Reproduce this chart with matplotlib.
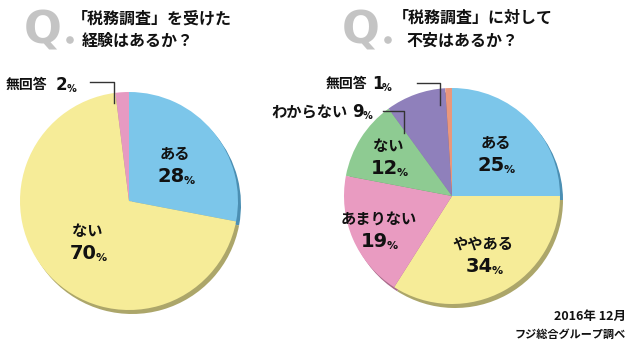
import numpy as np
import matplotlib
matplotlib.use('Agg')
import matplotlib.pyplot as plt
from matplotlib.patches import Circle

plt.rcParams['font.family'] = ['Noto Sans CJK JP', 'DejaVu Sans']

# data
q1_title = ['「税務調査」を受けた', '経験はあるか？']
q1_labels = ['ある', 'ない', '無回答']
q1_values = [28, 70, 2]
q1_colors = ['#7cc6ea', '#f6ec98', '#e69ac2']
q1_shadow = ['#4b8fb3', '#aca66a', '#a86b8a']

q2_title = ['「税務調査」に対して', '不安はあるか？']
q2_labels = ['ある', 'ややある', 'あまりない', 'ない', 'わからない', '無回答']
q2_values = [25, 34, 19, 12, 9, 1]
q2_colors = ['#7cc6ea', '#f6ec98', '#e99bc1', '#8ecb92', '#8f80bb', '#e9977c']
q2_shadow = ['#4b8fb3', '#aca66a', '#a86b8a', '#5f9562', '#5d5289', '#a8664f']

footer = ['2016年 12月', 'フジ総合グループ調べ']

W, H = 632, 349
fig = plt.figure(figsize=(W / 100, H / 100), dpi=100)
ax = fig.add_axes([0, 0, 1, 1])
ax.set_xlim(0, W)
ax.set_ylim(0, H)
ax.set_aspect('equal')
ax.axis('off')


def Y(py):
    return H - py


def pct_text(x, y, num, ha='center', big=14, small=8):
    # number bold and big, small % sign stuck to its right
    t = ax.text(x, y, str(num), ha=ha, va='baseline', fontsize=big,
                fontweight='bold', family='DejaVu Sans', color='#111111')
    ax.annotate('%', xy=(1, 0), xycoords=t, xytext=(-1, 0),
                textcoords='offset points', ha='left', va='bottom',
                fontsize=small, fontweight='bold', family='DejaVu Sans',
                color='#111111')


def draw_pie(cx, cy, r, values, colors, shadow, labels, inner, callouts):
    # shadow pie, slightly offset down/right
    ax.pie(values, colors=shadow, startangle=90, counterclock=False,
           center=(cx + 3, Y(cy) - 4), radius=r, frame=True,
           wedgeprops=dict(linewidth=0))
    wedges, _ = ax.pie(values, colors=colors, startangle=90, counterclock=False,
                       center=(cx, Y(cy)), radius=r, frame=True,
                       wedgeprops=dict(linewidth=0))
    for i, w in enumerate(wedges):
        if i not in inner:
            continue
        frac = inner[i]
        mid = np.deg2rad((w.theta1 + w.theta2) / 2)
        lx = cx + frac * r * np.cos(mid)
        ly = Y(cy) + frac * r * np.sin(mid)
        ax.text(lx, ly + 9, labels[i], ha='center', va='center', fontsize=11,
                fontweight='bold', color='#111111')
        pct_text(lx - 4, ly - 19, values[i])
    for i, (fs, lab_r, tx, ty, hx, hy, vx, vy) in callouts.items():
        # lab_r = right edge of the label, tx = left edge of the number
        ax.text(lab_r, Y(ty), labels[i], ha='right', va='center',
                fontsize=fs, fontweight='semibold', color='#111111')
        pct_text(tx, Y(ty) - 5, values[i], ha='left', big=12, small=7)
        ax.plot([hx, vx, vx], [Y(hy), Y(hy), Y(vy)], color='#333333', lw=1,
                zorder=5)
    ax.set_xlim(0, W)
    ax.set_ylim(0, H)
    ax.set_aspect('equal')
    ax.axis('off')


def draw_title(qx, dot_x, x1, x2, lines):
    ax.text(qx, Y(43), 'Q', ha='left', va='baseline', fontsize=32,
            fontweight='bold', family='DejaVu Sans', color='#c4c4c4')
    ax.add_patch(Circle((dot_x, Y(40)), 3.8, color='#c4c4c4', lw=0))
    ax.text(x1, Y(18), lines[0], ha='left', va='center', fontsize=11.5,
            fontweight='bold', color='#111111')
    ax.text(x2, Y(41), lines[1], ha='left', va='center', fontsize=11.5,
            fontweight='bold', color='#111111')


draw_title(24, 70, 72, 82, q1_title)
draw_title(342, 388, 393, 406, q2_title)

draw_pie(129, 201, 109, q1_values, q1_colors, q1_shadow, q1_labels,
         inner={0: 0.55, 1: 0.52},
         callouts={2: (10, 47, 56, 85, 90, 82, 114, 103)})

draw_pie(452, 196, 108, q2_values, q2_colors, q2_shadow, q2_labels,
         inner={0: 0.57, 1: 0.6, 2: 0.74, 3: 0.7},
         callouts={5: (10, 367, 372, 84, 417, 83, 440, 105),
                   4: (11, 348, 352, 112, 383, 111, 404, 133)})

ax.text(626, Y(316), footer[0], ha='right', va='center', fontsize=9,
        fontweight='bold', color='#111111')
ax.text(626, Y(334), footer[1], ha='right', va='center', fontsize=8,
        fontweight='bold', color='#111111')

fig.savefig('out.png', dpi=100)
